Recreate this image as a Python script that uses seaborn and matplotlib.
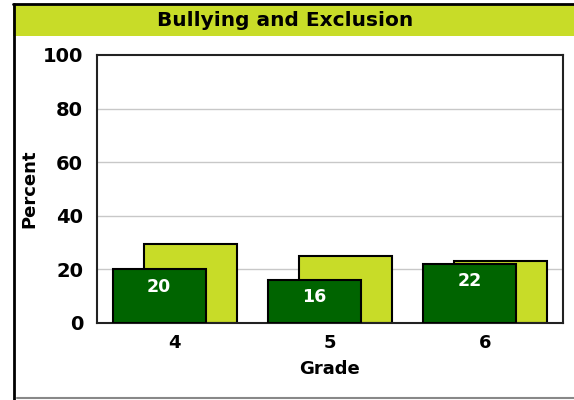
"""Bullying and Exclusion: percent by grade, two overlapping bar series."""

from __future__ import annotations

import matplotlib

matplotlib.use("Agg")
import matplotlib.pyplot as plt
import numpy as np
import pandas as pd
import seaborn as sns
from matplotlib.lines import Line2D
from matplotlib.patches import Rectangle


GRADES = [4, 5, 6]
FRONT_VALUES = [20, 16, 22]
BACK_VALUES = [29.5, 25, 23]
FRONT_LABELS = ["20", "16", "22"]
Y_TICKS = [0, 20, 40, 60, 80, 100]

TITLE = "Bullying and Exclusion"
LIME = "#c8dc28"
DARK = "#006400"
W, H = 574, 400


def draw_frame(fig) -> None:
    # Title band and outer box drawn in pixel-based figure coordinates.
    fig.patches.append(
        Rectangle((13 / W, 1 - 36 / H), 1 - 13 / W, 32 / H,
                  transform=fig.transFigure, facecolor=LIME, edgecolor="none")
    )
    fig.lines.append(Line2D([13 / W, 1], [1 - 4 / H, 1 - 4 / H],
                            transform=fig.transFigure, color="black", linewidth=2))
    fig.lines.append(Line2D([14 / W, 14 / W], [1 - 4 / H, 0],
                            transform=fig.transFigure, color="black", linewidth=2))
    fig.lines.append(Line2D([17 / W, 1], [1 - 398 / H, 1 - 398 / H],
                            transform=fig.transFigure, color="#888888", linewidth=1.5))
    fig.text(285 / W, 1 - 21 / H, TITLE, ha="center", va="center",
             fontsize=14.5, fontweight="bold", color="black")


def main() -> None:
    sns.set_style("white")
    plt.rcParams["font.family"] = ["DejaVu Sans"]
    plt.rcParams["text.color"] = "black"
    plt.rcParams["axes.labelcolor"] = "black"
    plt.rcParams["xtick.color"] = "black"
    plt.rcParams["ytick.color"] = "black"

    frame = pd.DataFrame({"Grade": GRADES, "Front": FRONT_VALUES, "Back": BACK_VALUES})
    grades = np.array(GRADES, dtype=float)

    fig = plt.figure(figsize=(W / 100, H / 100), dpi=100)
    ax = fig.add_axes([97 / W, 1 - 323 / H, (563 - 97) / W, (323 - 55) / H])

    for y in Y_TICKS[1:-1]:
        ax.axhline(y, color="#c8c8c8", linewidth=1, zorder=0)

    sns.barplot(x=grades + 0.1, y=frame["Back"], native_scale=True, width=0.6,
                color=LIME, edgecolor="black", linewidth=1.5, saturation=1,
                errorbar=None, ax=ax, zorder=2)
    sns.barplot(x=grades - 0.1, y=frame["Front"], native_scale=True, width=0.6,
                color=DARK, edgecolor="black", linewidth=1.5, saturation=1,
                errorbar=None, ax=ax, zorder=3)

    for x, value, label in zip(grades - 0.1, FRONT_VALUES, FRONT_LABELS):
        ax.annotate(label, (x, value), xytext=(0, -12.5), textcoords="offset points",
                    ha="center", va="center", color="white", fontsize=12.5,
                    fontweight="bold", zorder=4)

    ax.set_xlim(GRADES[0] - 0.5, GRADES[-1] + 0.5)
    ax.set_ylim(0, 100)
    ax.set_xticks(GRADES)
    ax.set_xticklabels([str(g) for g in GRADES])
    ax.set_yticks(Y_TICKS)
    ax.tick_params(axis="y", length=8, width=1.2, labelsize=14, pad=2)
    ax.tick_params(axis="x", length=0, labelsize=13, pad=8)
    for lab in ax.get_xticklabels() + ax.get_yticklabels():
        lab.set_fontweight("bold")
    for spine in ax.spines.values():
        spine.set_visible(True)
        spine.set_color("#222222")
        spine.set_linewidth(1.5)
    ax.set_xlabel("Grade", fontsize=13, fontweight="bold", labelpad=6)
    ax.set_ylabel("Percent", fontsize=13, fontweight="bold", labelpad=3)

    draw_frame(fig)
    fig.savefig("out.png", dpi=100)
    plt.close(fig)


if __name__ == "__main__":
    main()
